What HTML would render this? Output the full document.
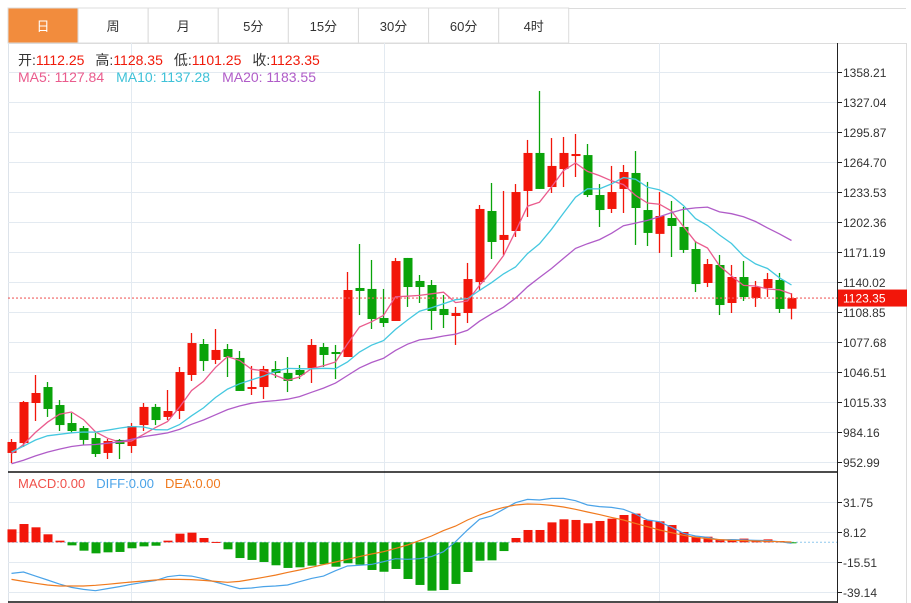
<!DOCTYPE html>
<html><head><meta charset="utf-8"><style>
html,body{margin:0;padding:0;background:#fff;width:911px;height:603px;overflow:hidden}
svg{display:block;font-family:"Liberation Sans","Noto Sans CJK SC",sans-serif}
</style></head><body>
<svg id="chart" width="911" height="603" viewBox="0 0 911 603" xmlns="http://www.w3.org/2000/svg">
<g id="tabs"></g>
<g id="grid"></g>
<g id="candles"></g>
<g id="mas"></g>
<g id="macd"></g>
<g id="axis"></g>
<g font-size="14">
<text x="18" y="65"><tspan fill="#333">开:</tspan><tspan fill="#f01a0a">1112.25</tspan><tspan fill="#333" dx="11">高:</tspan><tspan fill="#f01a0a">1128.35</tspan><tspan fill="#333" dx="11">低:</tspan><tspan fill="#f01a0a">1101.25</tspan><tspan fill="#333" dx="11">收:</tspan><tspan fill="#f01a0a">1123.35</tspan></text>
<text x="18" y="82"><tspan fill="#ea5b8d">MA5: 1127.84</tspan><tspan fill="#3fc2d8" dx="12">MA10: 1137.28</tspan><tspan fill="#b05cc8" dx="12">MA20: 1183.55</tspan></text>
</g>
<g font-size="13">
<text x="18" y="488"><tspan fill="#f0504a">MACD:0.00</tspan><tspan fill="#4aa3e8" dx="11">DIFF:0.00</tspan><tspan fill="#f07a1e" dx="11">DEA:0.00</tspan></text>
</g>
</svg>
<script>
const opens=[962.4,972.7,1014.3,1030.9,1012.2,993.5,988.3,977.9,962.4,975.9,969.6,991.4,1010.2,999.8,1006.0,1043.4,1075.6,1059.0,1070.4,1061.1,1028.9,1030.9,1049.6,1045.5,1048.6,1050.7,1072.5,1067.3,1062.1,1133.8,1132.8,1102.6,1099.5,1165.0,1141.1,1136.9,1112.0,1104.7,1107.8,1140.0,1213.8,1183.7,1193.0,1234.6,1274.1,1238.7,1257.4,1270.9,1271.9,1230.4,1215.9,1236.7,1253.3,1214.8,1190.0,1206.5,1197.2,1174.3,1139.0,1157.7,1118.2,1145.2,1123.4,1133.8,1142.1,1112.25];
const highs=[976.9,1016.4,1043.4,1036.1,1017.4,1003.9,990.4,983.1,976.9,976.9,993.5,1014.3,1013.3,1027.8,1051.7,1087.0,1080.8,1091.2,1075.6,1068.3,1052.8,1052.8,1057.9,1062.1,1053.8,1080.8,1076.6,1074.6,1150.4,1179.5,1162.9,1132.8,1165.0,1165.0,1147.3,1142.1,1126.5,1114.1,1159.8,1220.0,1242.9,1234.6,1241.8,1287.6,1338.5,1289.6,1290.7,1293.8,1283.4,1241.8,1260.6,1261.6,1276.1,1244.0,1233.5,1224.2,1218.0,1182.6,1163.9,1168.1,1157.7,1161.8,1141.1,1149.4,1149.4,1128.35];
const lows=[952.0,968.6,995.6,999.8,985.2,983.1,970.7,958.2,956.1,956.1,962.4,985.2,991.4,996.6,997.7,1037.2,1047.6,1054.8,1041.3,1026.8,1022.6,1018.5,1040.3,1025.7,1039.2,1035.1,1051.7,1039.2,1062.1,1105.7,1091.2,1093.3,1099.5,1114.1,1118.2,1090.2,1092.2,1074.6,1097.4,1130.7,1163.9,1168.1,1186.8,1207.6,1236.7,1232.5,1238.7,1249.1,1228.3,1197.2,1211.7,1211.7,1178.5,1177.4,1170.2,1166.0,1170.2,1129.6,1134.8,1105.7,1107.8,1120.3,1114.1,1124.4,1107.8,1101.25];
const closes=[973.8,1015.3,1024.7,1008.1,991.4,985.2,975.9,961.3,974.8,971.7,990.4,1010.2,996.6,1006.0,1046.5,1076.6,1057.9,1069.4,1062.1,1026.8,1030.9,1049.6,1045.5,1037.2,1043.4,1074.6,1064.2,1065.2,1131.7,1130.7,1101.6,1097.4,1161.8,1134.8,1134.8,1109.9,1105.7,1107.8,1143.1,1215.9,1181.6,1188.9,1233.5,1274.1,1236.7,1260.6,1274.1,1273.0,1230.4,1214.8,1233.5,1254.3,1216.9,1191.0,1208.6,1198.2,1173.3,1137.9,1158.7,1116.1,1145.2,1124.4,1134.8,1143.1,1112.0,1123.35];
const priorCloses=[940,935,930,928,932,945,950,948,942,938,955,960,965,975,970,968,962,955,950];
const macdHist=[10.2,14.4,11.8,6.3,1.3,-2.4,-6.6,-8.7,-7.9,-7.6,-4.7,-3.2,-2.7,1.3,6.8,7.6,3.4,0.3,-5.5,-12.4,-13.9,-15.5,-18.1,-20.2,-19.7,-18.4,-17.3,-19.2,-16.5,-17.6,-21.8,-23.2,-21.0,-28.9,-33.6,-38.1,-37.6,-32.8,-23.4,-14.5,-14.2,-6.9,3.4,9.7,9.7,15.7,18.1,17.6,15.0,16.8,18.6,21.5,22.6,17.6,16.5,13.6,8.1,4.4,4.4,2.3,2.3,2.9,1.8,2.3,1.0,-0.3];
const diffVals=[-24.5,-23.4,-26.6,-29.7,-32.9,-35.5,-37.1,-38.1,-36.5,-34.9,-33.1,-31.5,-30.2,-27.1,-26.0,-26.6,-28.7,-31.3,-33.9,-36.5,-36.0,-34.9,-34.4,-33.6,-31.0,-28.4,-26.6,-22.4,-18.7,-18.1,-17.4,-15.3,-12.9,-13.4,-12.9,-11.3,-7.4,0.5,9.7,18.1,20.7,26.0,31.2,33.8,33.3,34.6,34.6,32.8,29.4,28.1,27.5,26.0,22.3,17.6,16.2,11.8,7.1,5.0,3.9,1.8,2.1,1.8,1.5,1.3,0.5,-0.8];
const deaVals=[-29.2,-30.8,-32.3,-33.6,-34.4,-34.4,-34.4,-33.9,-33.1,-32.1,-31.3,-30.5,-29.7,-29.2,-29.2,-29.4,-30.0,-30.8,-31.5,-30.8,-29.2,-27.6,-25.8,-23.7,-21.8,-19.7,-17.6,-15.5,-13.4,-11.3,-9.2,-7.4,-4.8,-2.1,1.3,5.0,9.2,12.8,17.6,21.5,24.9,27.5,29.4,30.2,29.9,29.1,27.8,26.0,23.9,21.8,19.6,17.6,14.9,12.3,9.7,7.6,5.5,3.9,2.9,2.1,1.5,1.3,1.0,0.8,0.5,0.2];
const priceTicks=[1358.21,1327.04,1295.87,1264.70,1233.53,1202.36,1171.19,1140.02,1108.85,1077.68,1046.51,1015.33,984.16,952.99];
const macdTicks=[31.75,8.12,-15.51,-39.14];
const tabLabels=["日","周","月","5分","15分","30分","60分","4时"];
const lastPrice=1123.35;

const NS="http://www.w3.org/2000/svg";
function mk(parent,tag,attrs){const e=document.createElementNS(NS,tag);for(const k in attrs)e.setAttribute(k,attrs[k]);parent.appendChild(e);return e;}
const px=v=>72+(1358.21-v)*30/31.17;
const cx=i=>11+12*i;
const my=v=>542.3-v/0.7877;
const RED="#f2160a",GREEN="#0aa30a";

const tabs=document.getElementById('tabs');
tabLabels.forEach((t,i)=>{
  const x=8+i*70.1;
  const r=mk(tabs,'rect',{x:x,y:8,width:70,height:35,fill:i===0?'#f28c3d':'#fff',stroke:'#dcdcdc','stroke-width':1});
  
  
  const tx=mk(tabs,'text',{x:x+35,y:31,'text-anchor':'middle','font-size':13,fill:i===0?'#fff':'#333'});
  tx.textContent=t;
  
  
});
mk(tabs,'line',{x1:568,y1:8.5,x2:906,y2:8.5,stroke:'#dcdcdc'});

const g=document.getElementById('grid');
mk(g,'line',{x1:8,y1:43.5,x2:906,y2:43.5,stroke:'#dcdcdc'});
mk(g,'line',{x1:8.5,y1:43,x2:8.5,y2:603,stroke:'#dde3ea'});
mk(g,'line',{x1:906.5,y1:43,x2:906.5,y2:603,stroke:'#dcdcdc'});
priceTicks.forEach(v=>{const y=Math.round(px(v))+0.5;mk(g,'line',{x1:8,y1:y,x2:837,y2:y,stroke:'#e3eaf1'});});
macdTicks.forEach(v=>{const y=Math.round(my(v))+0.5;mk(g,'line',{x1:8,y1:y,x2:837,y2:y,stroke:'#e3eaf1'});});
[131,384,659].forEach(x=>{mk(g,'line',{x1:x+0.5,y1:43,x2:x+0.5,y2:602,stroke:'#e3eaf1'});});

const cg=document.getElementById('candles');
closes.forEach((c,i)=>{
  const o=opens[i],h=highs[i],l=lows[i];
  const col=c>=o?RED:GREEN;
  const x=cx(i);
  const w=mk(cg,'line',{x1:x+0.5,y1:px(h),x2:x+0.5,y2:px(l),stroke:col,'stroke-width':1.3});
  
  
  const top=px(Math.max(o,c)),bot=px(Math.min(o,c));
  const b=mk(cg,'rect',{x:x-3.5,y:top,width:9,height:Math.max(1.5,bot-top),fill:col});
  
  
});

const all=priorCloses.concat(closes);
function ma(n){return closes.map((_,i)=>{const j=i+priorCloses.length;let s=0,k=0;for(let t=j;t>j-n&&t>=0;t--){s+=all[t];k++;}return s/k;});}
const mg=document.getElementById('mas');
[[5,'#ea5b8d','ma5-line'],[10,'#45c8e0','ma10-line'],[20,'#b05cc8','ma20-line']].forEach(([n,col,name])=>{
  const vals=ma(n);
  const p=mk(mg,'polyline',{points:vals.map((v,i)=>cx(i)+0.5+','+px(v).toFixed(1)).join(' '),fill:'none',stroke:col,'stroke-width':1.3});
  
  
});

const ly=px(lastPrice);
const ll=mk(mg,'line',{x1:8,y1:ly,x2:837,y2:ly,stroke:'#f06060','stroke-width':1.2,'stroke-dasharray':'2,2'});



const mp=document.getElementById('macd');
mk(mp,'line',{x1:8,y1:472,x2:837,y2:472,stroke:'#111','stroke-width':1.5});
mk(mp,'line',{x1:8,y1:602,x2:837,y2:602,stroke:'#111','stroke-width':1.5});
mk(mp,'line',{x1:8,y1:my(0),x2:837,y2:my(0),stroke:'#8fc8ee','stroke-width':1,'stroke-dasharray':'2,2'});
macdHist.forEach((v,i)=>{
  const y0=my(0),y1=my(v);
  const r=mk(mp,'rect',{x:cx(i)-3.5,y:Math.min(y0,y1),width:9,height:Math.max(1,Math.abs(y1-y0)),fill:v>=0?RED:GREEN});
  
  
});
[[diffVals,'#4aa3e8','diff-line'],[deaVals,'#f07a1e','dea-line']].forEach(([vals,col,name])=>{
  const p=mk(mp,'polyline',{points:vals.map((v,i)=>cx(i)+0.5+','+my(v).toFixed(1)).join(' '),fill:'none',stroke:col,'stroke-width':1.2});
  
  
});

const ax=document.getElementById('axis');
mk(ax,'line',{x1:837.5,y1:43,x2:837.5,y2:603,stroke:'#222','stroke-width':1});
priceTicks.forEach(v=>{
  const y=Math.round(px(v))+0.5;
  mk(ax,'line',{x1:838,y1:y,x2:842,y2:y,stroke:'#222'});
  const t=mk(ax,'text',{x:843,y:y+4.5,'font-size':12,fill:'#333'});
  t.textContent=v.toFixed(2);
  
  
});
macdTicks.forEach(v=>{
  const y=Math.round(my(v))+0.5;
  mk(ax,'line',{x1:838,y1:y,x2:842,y2:y,stroke:'#222'});
  const t=mk(ax,'text',{x:843,y:y+4.5,'font-size':12,fill:'#333'});
  t.textContent=v.toFixed(2);
  
  
});
const box=mk(ax,'rect',{x:838,y:ly-8.5,width:69,height:17,fill:'#f2160a'});


const bt=mk(ax,'text',{x:843,y:ly+4.5,'font-size':12,fill:'#fff'});
bt.textContent=lastPrice.toFixed(2);


</script>
</body></html>
